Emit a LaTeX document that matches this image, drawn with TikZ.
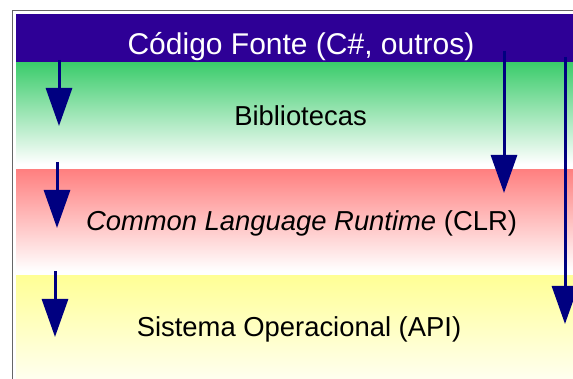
\documentclass[tikz,border=0pt]{standalone}
\usepackage{fontspec}
\setmainfont{Liberation Sans}
\usetikzlibrary{arrows.meta}
\definecolor{fonteazul}{RGB}{46,0,150}
\definecolor{bibverde}{RGB}{60,204,108}
\definecolor{clrverm}{RGB}{255,128,128}
\definecolor{soamar}{RGB}{255,255,150}
\definecolor{setaazul}{RGB}{0,0,128}

\begin{document}
\begin{tikzpicture}[x=1pt, y=-1pt,
                    every node/.style={inner sep=0pt, anchor=base, font=\fontsize{27.4}{32}\selectfont},
                    arrow_style/.style={draw=setaazul, line width=3pt, -{Triangle[length=38pt,width=26pt]}}]
                    \useasboundingbox (0,0) rectangle (573,379);
                    \clip (0,0) rectangle (573,379);
                    \fill[white] (0,0) rectangle (573,379);
                    \draw[black!60, line width=1pt] (12.5,400) -- (12.5,10.5) -- (600,10.5);
                    \fill[fonteazul] (16,14) rectangle (600,62);
                    \shade[top color=bibverde, bottom color=white] (16,63) rectangle (600,164);
                    \shade[top color=clrverm, bottom color=white] (16,170) rectangle (600,271);
                    \shade[top color=soamar, bottom color=white!90!soamar] (16,276) rectangle (600,385);
                    \node[text=white, font=\fontsize{30}{36}\selectfont] (fonte) at (301,54.5) {Código Fonte (C\#, outros)};
                    \node (bib) at (300.5,126) {Bibliotecas};
                    \node (clr) at (301.5,231) {\textit{Common Language Runtime} (CLR)};
                    \node (so) at (299,336.5) {Sistema Operacional (API)};
                    \coordinate (s1) at (59,60);
                    \coordinate (t1) at (59,126);
                    \coordinate (s2) at (57,162);
                    \coordinate (t2) at (57,228);
                    \coordinate (s3) at (55,271);
                    \coordinate (t3) at (55,337);
                    \coordinate (s4) at (504,51);
                    \coordinate (t4) at (504,193);
                    \coordinate (s5) at (565,57);
                    \coordinate (t5) at (565,324);
                    \draw (s1) edge[arrow_style] (t1);
                    \draw (s2) edge[arrow_style] (t2);
                    \draw (s3) edge[arrow_style] (t3);
                    \draw (s4) edge[arrow_style] (t4);
                    \draw (s5) edge[arrow_style] (t5);
                \end{tikzpicture}
\end{document}
